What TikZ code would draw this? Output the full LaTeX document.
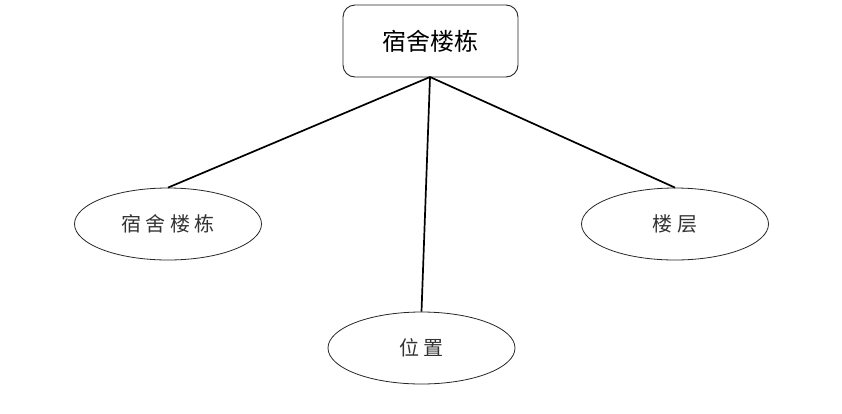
\documentclass[tikz,border=0pt]{standalone}
\usepackage{fontspec}
\newfontfamily\cjk{Noto Sans CJK SC}
\newfontfamily\cjkl{Noto Sans CJK SC}
\usetikzlibrary{shapes.geometric}
\tikzset{
  entity/.style={draw=black!85, line width=0.9pt, rounded corners=12pt, fill=white,
    minimum width=175pt, minimum height=72pt, inner sep=0pt,
    font=\cjk\fontsize{24}{27}\selectfont},
  attr/.style={draw=black!85, line width=0.8pt, ellipse, fill=white,
    minimum width=187pt, minimum height=72pt, inner sep=0pt,
    font=\cjkl\fontsize{20}{23}\selectfont, text=black!80},
  link/.style={line width=1.7pt, black}
}
\newcommand{\csp}{\hspace{4.5pt}}
\begin{document}
\begin{tikzpicture}[x=1pt,y=-1pt]
\useasboundingbox (0,0) rectangle (842,413);
\node[entity] (top) at (430.5,41) {宿舍楼栋};
\node[attr] (a) at (168,224) {宿\csp 舍\csp 楼\csp 栋};
\node[attr] (b) at (675,224) {楼\csp 层};
\node[attr] (c) at (421.5,348) {位\csp 置};
\coordinate (o) at (430,77);
\draw[link] (o) -- (a.north);
\draw[link] (o) -- (b.north);
\draw[link] (o) -- (c.north);
\end{tikzpicture}
\end{document}
